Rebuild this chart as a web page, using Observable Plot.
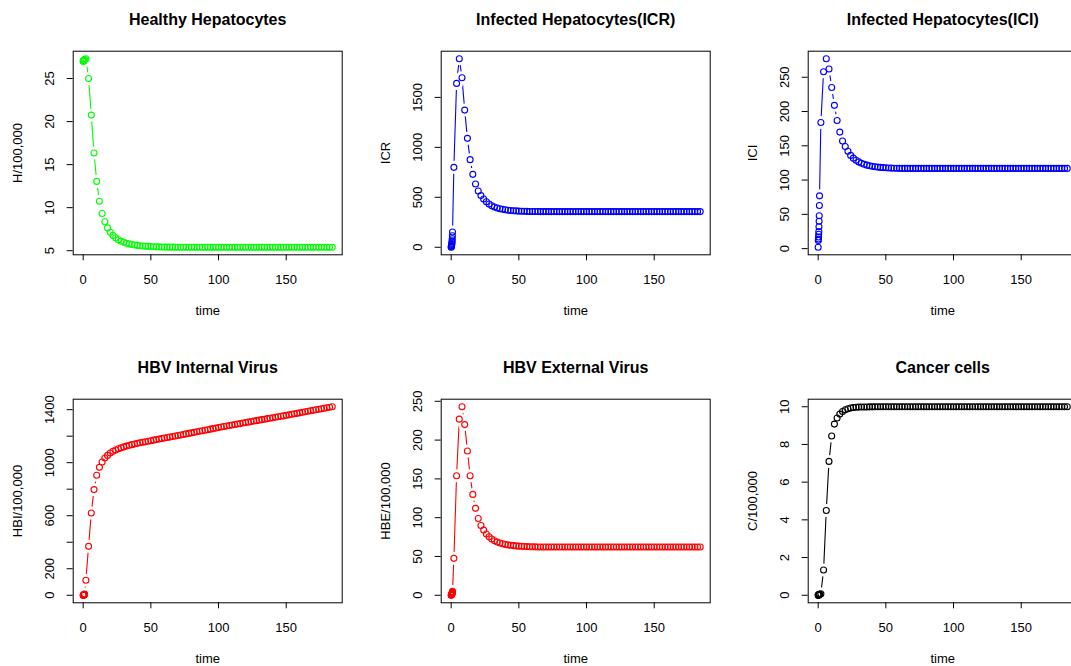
<!DOCTYPE html>
<html><head><meta charset="utf-8">
<script src="https://cdn.jsdelivr.net/npm/d3@7"></script>
<script src="https://cdn.jsdelivr.net/npm/@observablehq/plot@0.6"></script>
<style>
body{margin:0;background:#fff}
#wrap{position:relative;width:1071px;height:666px;overflow:hidden;background:#fff}
.panel{position:absolute}
</style></head><body><div id="wrap"></div>
<script>
const time = [0,0.1,0.2,0.3,0.4,0.5,0.6,0.7,0.8,0.9,1,
 2,4,6,8,10,12,14,16,18,20,22,24,26,28,30,32,34,36,38,40,42,44,46,48,50,52,54,56,58,60,62,64,66,
 68,70,72,74,76,78,80,82,84,86,88,90,92,94,96,98,100,102,104,106,108,110,112,114,116,118,120,122,124,126,128,130,
 132,134,136,138,140,142,144,146,148,150,152,154,156,158,160,162,164,166,168,170,172,174,176,178,180,182,184];

const healthy = [27.0,27.02,27.04,27.06,27.08,27.1,27.12,27.14,27.16,27.18,27.2,
 27.3,25.0,20.75,16.35,13.05,10.75,9.32,8.36,7.65,7.15,6.78,6.5,6.28,6.1,5.97,5.87,5.79,5.72,5.67,5.62,5.58,5.55,5.52,5.5,5.48,5.46,5.45,5.44,5.43,5.42,5.42,5.41,5.41,
 5.4,5.4,5.4,5.4,5.4,5.4,5.4,5.4,5.4,5.4,
 5.4,5.4,5.4,5.4,5.4,5.4,5.4,5.4,5.4,5.4,
 5.4,5.4,5.4,5.4,5.4,5.4,5.4,5.4,5.4,5.4,
 5.4,5.4,5.4,5.4,5.4,5.4,5.4,5.4,5.4,5.4,
 5.4,5.4,5.4,5.4,5.4,5.4,5.4,5.4,5.4,5.4,
 5.4,5.4,5.4,5.4,5.4,5.4,5.4,5.4,5.4];

const icr = [0,5,10,18,27,37,50,65,85,115,153,
 800,1640,1887,1697,1373,1090,877,730,633,563,517,483,455,433,416,403,393,386,380,375,371,368,366,364,362,361,360,359,358.5,358,357.5,357.2,357,
 357,357,357,357,357,357,357,357,357,357,
 357,357,357,357,357,357,357,357,357,357,
 357,357,357,357,357,357,357,357,357,357,
 357,357,357,357,357,357,357,357,357,357,
 357,357,357,357,357,357,357,357,357,357,
 357,357,357,357,357,357,357,357,357];

const ici = [2,12,14,17,21,25,32,40,48,63,77,
 184,258,277,262,235,209,187,170,157,149,142,136,132,129,126.5,124.5,123,121.8,120.8,120,119.4,118.9,118.5,118.2,117.9,117.7,117.5,117.3,117.2,117.1,117,117,117,
 117,117,117,117,117,117,117,117,117,117,
 117,117,117,117,117,117,117,117,117,117,
 117,117,117,117,117,117,117,117,117,117,
 117,117,117,117,117,117,117,117,117,117,
 117,117,117,117,117,117,117,117,117,117,
 117,117,117,117,117,117,117,117,117];

const hbi = [0,0.5,1,1.5,2,3,4,5,6,8,10,
 113,369,621,797,905,965,1005,1035,1055,1073,1086,1096,1105,1112,1119,1125,1131,1136,1141,1146,1150,1154,1158,1162,1166,1170,1174,1178,1182,1186,1190,1193,1197,
 1201,1205,1209,1213,1217,1221,1225,1229,1233,1237,
 1241,1245,1249,1253,1257,1261,1265,1269,1273,1277,
 1280,1284,1288,1292,1295,1299,1303,1306,1310,1314,
 1317,1321,1325,1328,1332,1335,1339,1343,1346,1350,
 1353,1357,
 1361,1365,1369,1372,1376,1380,1384,1388,1392,1395,
 1399,1403,1407,1411,1414,1418,1422];

const hbe = [0,0.3,0.6,1,1.3,1.7,2.1,2.6,3.2,4,5,
 47.6,154,227,243,220,186,154,130,112,99,90,84,79,75.5,72.5,70.3,68.6,67.3,66.3,65.5,64.9,64.4,64,63.6,63.3,63.1,62.9,62.7,62.6,62.5,62.4,62.3,62.3,
 62.2,62.2,62.2,62.2,62.2,62.2,62.2,62.2,62.2,62.2,
 62.2,62.2,62.2,62.2,62.2,62.2,62.2,62.2,62.2,62.2,
 62.2,62.2,62.2,62.2,62.2,62.2,62.2,62.2,62.2,62.2,
 62.2,62.2,62.2,62.2,62.2,62.2,62.2,62.2,62.2,62.2,
 62.2,62.2,62.2,62.2,62.2,62.2,62.2,62.2,62.2,62.2,
 62.2,62.2,62.2,62.2,62.2,62.2,62.2,62.2,62.2];

const cancer = [0,0.005,0.01,0.015,0.02,0.025,0.03,0.035,0.04,0.045,0.05,
 0.08,1.34,4.5,7.1,8.45,9.08,9.4,9.61,9.75,9.84,9.89,9.93,9.96,9.97,9.98,9.985,9.99,9.99,9.995,9.995,
 10,10,10,10,10,10,10,10,10,10,10,10,10,
 10,10,10,10,10,10,10,10,10,10,
 10,10,10,10,10,10,10,10,10,10,
 10,10,10,10,10,10,10,10,10,10,
 10,10,10,10,10,10,10,10,10,10,
 10,10,10,10,10,10,10,10,10,10,
 10,10,10,10,10,10,10,10,10];

const titles = ["Healthy Hepatocytes","Infected Hepatocytes(ICR)","Infected Hepatocytes(ICI)","HBV Internal Virus","HBV External Virus","Cancer cells"];
const yTitles = ["H/100,000","ICR","ICI","HBI/100,000","HBE/100,000","C/100,000"];
const colors = ["#00ff00","#0000ff","#0000ff","#ff0000","#ff0000","#000000"];
const xTicks = [0,50,100,150];
const xTickLabels = ["0","50","100","150"];
const yTicksH = [5,10,15,20,25];
const yLabelsH = ["5","10","15","20","25"];
const yTicksICR = [0,500,1000,1500];
const yLabelsICR = ["0","500","1000","1500"];
const yTicksICI = [0,50,100,150,200,250];
const yLabelsICI = ["0","50","100","150","200","250"];
const yTicksHBI = [0,200,400,600,800,1000,1200,1400];
const yLabelsHBI = ["0","200","","600","","1000","","1400"];
const yTicksHBE = [0,50,100,150,200,250];
const yLabelsHBE = ["0","50","100","150","200","250"];
const yTicksC = [0,2,4,6,8,10];
const yLabelsC = ["0","2","4","6","8","10"];
const xLabel = "time";

const series = [healthy, icr, ici, hbi, hbe, cancer];
const yTicks = [yTicksH, yTicksICR, yTicksICI, yTicksHBI, yTicksHBE, yTicksC];
const yLabels = [yLabelsH, yLabelsICR, yLabelsICI, yLabelsHBI, yLabelsHBE, yLabelsC];

series.forEach((s, i) => { if (s.length !== time.length) throw new Error("length mismatch in series " + i + ": " + s.length + " vs " + time.length); });

const W = 367.5, H = 348;
const mL = 72.7, mR = W - 341.7, mT = 50.7, mB = H - 254.3;
const font = "'Liberation Sans', Arial, Helvetica, sans-serif";
function pad(ext) { const d = (ext[1] - ext[0]) * 0.04; return [ext[0] - d, ext[1] + d]; }

const wrap = document.getElementById("wrap");
series.forEach((vals, i) => {
  const col = i % 3, row = Math.floor(i / 3);
  const data = time.map((t, j) => ({t, v: vals[j]}));
  const color = colors[i];
  const svg = Plot.plot({
    width: W, height: H,
    marginLeft: mL, marginRight: mR, marginTop: mT, marginBottom: mB,
    x: {domain: pad(d3.extent(time))},
    y: {domain: pad(d3.extent(vals))},
    style: {fontFamily: font, fontSize: "13px", background: "transparent", color: "black", overflow: "visible"},
    marks: [
      Plot.line(data, {x: "t", y: "v", stroke: color, strokeWidth: 1.1}),
      Plot.dot(data, {x: "t", y: "v", r: 6.5, fill: "white", stroke: null}),
      Plot.dot(data, {x: "t", y: "v", r: 3, stroke: color, fill: "none", strokeWidth: 1.1}),
      Plot.frame({stroke: "black", strokeWidth: 1}),
      Plot.axisX(xTicks, {tickSize: 6, tickPadding: 14, fontSize: 13, label: null, tickFormat: (d, k) => xTickLabels[k]}),
      Plot.axisY(yTicks[i], {tickSize: 6, tickFormat: () => "", label: null}),
      Plot.text(yTicks[i], {y: d => d, text: (d, k) => yLabels[i][k], frameAnchor: "left", dx: -23.5, rotate: -90, textAnchor: "middle", lineAnchor: "middle", fontSize: 13, fill: "black"}),
      Plot.text([yTitles[i]], {text: d => d, frameAnchor: "left", dx: -55, rotate: -90, textAnchor: "middle", lineAnchor: "middle", fontSize: 13, fill: "black"}),
      Plot.text([xLabel], {text: d => d, frameAnchor: "bottom", dy: 56, lineAnchor: "middle", fontSize: 13, fill: "black"}),
      Plot.text([titles[i]], {text: d => d, frameAnchor: "top", dy: -26.5, lineAnchor: "bottom", fontSize: 16, fontWeight: "bold", fill: "black"})
    ]
  });
  svg.classList.add("panel");
  svg.style.left = (col * W) + "px";
  svg.style.top = (row * H) + "px";
  wrap.appendChild(svg);
});
</script>
</body></html>
